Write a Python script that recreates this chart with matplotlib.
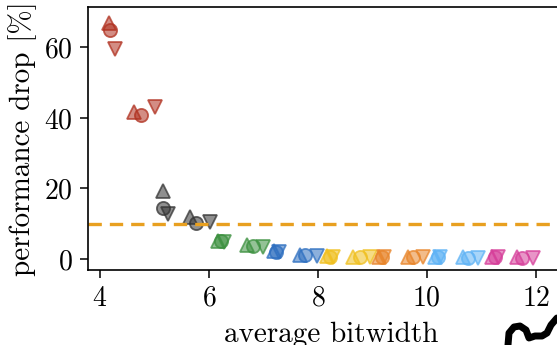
import numpy as np
import matplotlib
matplotlib.use("Agg")
import matplotlib.pyplot as plt
from matplotlib.lines import Line2D
from matplotlib.colors import to_rgba

plt.rcParams['font.family'] = 'cmr10'
plt.rcParams['mathtext.fontset'] = 'cm'
plt.rcParams['axes.formatter.use_mathtext'] = True
plt.rcParams['font.size'] = 20

# one colour per integer bitwidth group
colors = ['#b0301f', '#333333', '#3d9140', '#2e6fc0', '#f0c020',
          '#e8852a', '#5fb3f5', '#d63f9a']

# x / y for the three methods: triangle up, circle, triangle down
# each group has two clusters (low and high bitwidth)
x_up = [[4.17, 4.62], [5.16, 5.65], [6.17, 6.69], [7.19, 7.67],
        [8.17, 8.64], [9.12, 9.65], [10.15, 10.66], [11.2, 11.65]]
y_up = [[67.0, 41.6], [19.3, 12.0], [5.2, 4.0], [2.2, 1.2],
        [0.8, 0.7], [0.6, 0.6], [0.5, 0.5], [0.5, 0.5]]
x_circ = [[4.19, 4.76], [5.16, 5.76], [6.22, 6.81], [7.24, 7.76],
          [8.22, 8.77], [9.17, 9.74], [10.2, 10.75], [11.25, 11.74]]
y_circ = [[65.0, 40.8], [14.4, 10.2], [5.0, 3.6], [2.0, 1.1],
          [0.7, 0.6], [0.6, 0.5], [0.5, 0.4], [0.5, 0.4]]
x_down = [[4.27, 5.01], [5.25, 6.02], [6.27, 6.99], [7.29, 7.98],
          [8.27, 8.95], [9.22, 9.93], [10.25, 10.94], [11.3, 11.95]]
y_down = [[59.5, 43.0], [12.9, 10.6], [4.8, 3.3], [2.0, 1.0],
          [0.7, 0.6], [0.6, 0.5], [0.5, 0.4], [0.5, 0.4]]

threshold = 10

fig = plt.figure(figsize=(5.57, 3.45), dpi=100)
ax = fig.add_axes([88/557, 1-270/345, (575-88)/557, (270-7)/345])

ms = 9.5
for i, c in enumerate(colors):
    for xs, ys, m in [(x_up, y_up, '^'), (x_circ, y_circ, 'o'), (x_down, y_down, 'v')]:
        ax.plot(xs[i], ys[i], ls='none', marker=m, ms=ms,
                mfc=to_rgba(c, 0.55), mec=to_rgba(c, 0.75), mew=1.3)

ax.axhline(threshold, color='#e8a020', lw=2.4, ls=(0, (4, 2.4)))

ax.set_xlim(3.78, 12.72)
ax.set_ylim(-3.1, 71.4)
ax.set_xticks([4, 6, 8, 10, 12])
ax.set_yticks([0, 20, 40, 60])
ax.spines['right'].set_visible(False)
for s in ax.spines.values():
    s.set_linewidth(1.2)
ax.tick_params(length=6, width=1.1, pad=5)
ax.set_xlabel('average bitwidth', fontsize=21, labelpad=7)
ax.set_ylabel('performance drop [%]', fontsize=21, labelpad=5)

# piece of a logo peeking in at the bottom right corner
lx = [508, 509, 514, 520, 526, 529, 535, 542, 547, 551, 557]
ly = [345, 333, 327, 326, 330, 338, 336, 336, 333, 325, 318]
fig.add_artist(Line2D([v/557 for v in lx], [1-v/345 for v in ly],
                      color='black', lw=5, solid_capstyle='round'))

fig.savefig('out.png', dpi=100)
